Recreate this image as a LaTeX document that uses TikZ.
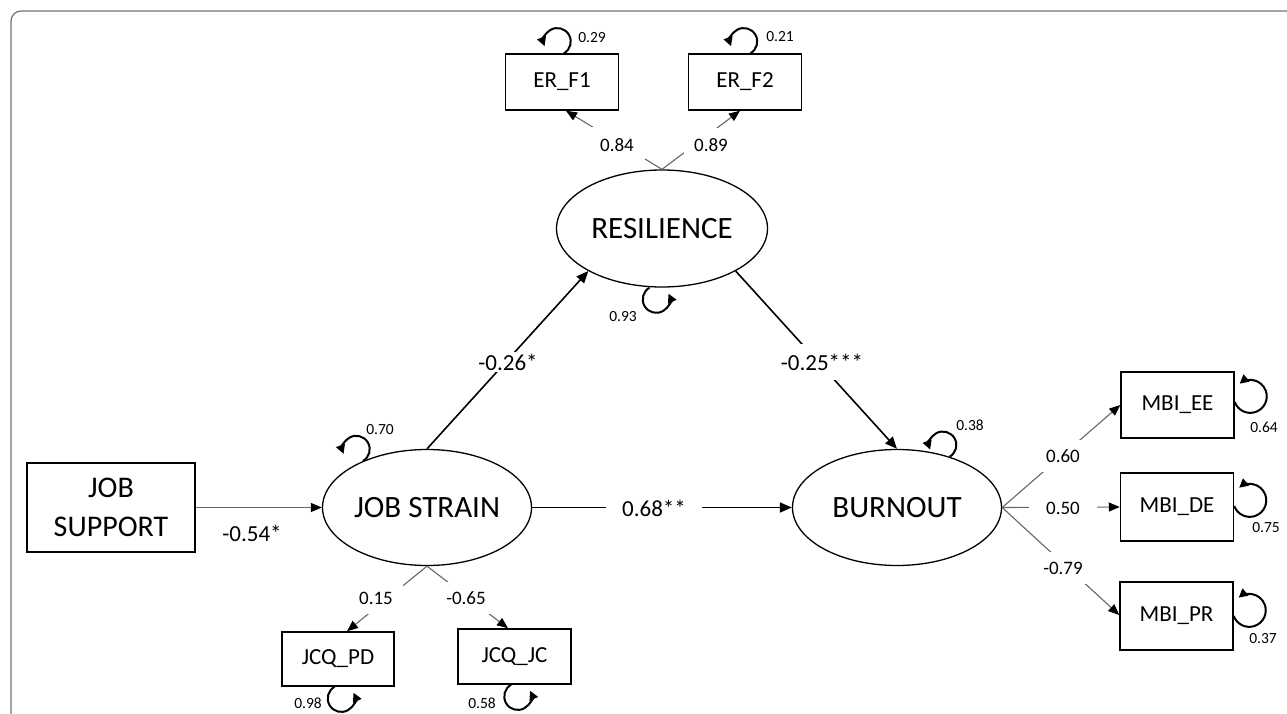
\documentclass[tikz,border=0pt]{standalone}
\usepackage{fontspec}
\setmainfont{Carlito}
\usetikzlibrary{arrows.meta,shapes.geometric}
\begin{document}
\begin{tikzpicture}[x=1pt,y=-1pt,
    latent/.style={draw,ellipse,line width=1.3pt,minimum width=209pt,minimum height=116pt,inner sep=0pt,font=\fontsize{31}{34}\selectfont},
    observed/.style={draw,rectangle,line width=1.5pt,minimum width=113pt,minimum height=56pt,inner sep=0pt,font=\fontsize{23}{26}\selectfont},
    regpath/.style={line width=1.6pt,-{Triangle[length=12pt,width=10pt]}},
    loading/.style={line width=1.1pt,black!60,-{Triangle[length=11pt,width=9pt,color=black]}},
    resid/.style={line width=2pt,-{Triangle[length=9pt,width=9pt]}},
    coef/.style={fill=white,inner sep=2pt,font=\fontsize{23}{26}\selectfont},
    loadlab/.style={fill=white,inner sep=10pt,font=\fontsize{19}{21}\selectfont},
    residlab/.style={inner sep=0pt,font=\fontsize{15.5}{17}\selectfont}]
    \useasboundingbox (0,0) rectangle (1287,714);
    \draw[black!55,line width=1.2pt,rounded corners=10pt] (11,714) -- (11,11) -- (1287,11);

    \node[observed] (er1) at (562,82) {ER\_F1};
    \node[observed] (er2) at (745,82) {ER\_F2};
    \node[latent,minimum width=211pt,minimum height=117pt] (res) at (662,228.5) {RESILIENCE};
    \node[latent] (js) at (427,507.5) {JOB STRAIN};
    \node[latent] (bo) at (897,507.5) {BURNOUT};
    \node[observed,minimum width=168pt,minimum height=89pt,align=center,font=\fontsize{30}{39}\selectfont] (sup) at (111,507.5) {JOB\\SUPPORT};
    \node[observed,minimum width=112pt,minimum height=54pt] (pd) at (338,659) {JCQ\_PD};
    \node[observed,minimum height=55pt] (jc) at (514.5,656.5) {JCQ\_JC};
    \node[observed,minimum height=66pt] (ee) at (1177.5,405) {MBI\_EE};
    \node[observed,minimum height=68pt] (de) at (1177,507) {MBI\_DE};
    \node[observed,minimum height=68pt] (pr) at (1176.5,616) {MBI\_PR};

    \draw[loading] (sup.east) -- (js.west);
    \draw[regpath] (js.north) -- (res.210);
    \draw[regpath] (res.-30) -- (bo.north);
    \draw[regpath] (js.east) -- (bo.west);
    \draw[loading] (res.north) -- ([xshift=4pt]er1.south);
    \draw[loading] (res.north) -- ([xshift=-5pt]er2.south);
    \draw[loading] (js.south) -- ([xshift=9pt]pd.north);
    \draw[loading] (js.south) -- ([xshift=-6.5pt]jc.north);
    \draw[loading] (bo.east) -- (ee.west);
    \draw[loading] (bo.east) -- (de.west);
    \draw[loading] (bo.east) -- ([yshift=1pt]pr.west);

    \node[coef,fill=none] (c-sup) at (252,533) {-0.54*};
    \node[coef] (c-res) at (508,362) {-0.26*};
    \node[coef,inner ysep=10pt] (c-bo) at (822,362) {-0.25***};
    \node[coef,inner xsep=16pt] (c-js) at (654,508) {0.68**};
    \node[loadlab,inner sep=11pt] (l-er1) at (617,145) {0.84};
    \node[loadlab] (l-er2) at (711,145) {0.89};
    \node[loadlab] (l-pd) at (376,598) {0.15};
    \node[loadlab] (l-jc) at (466,598) {-0.65};
    \node[loadlab] (l-ee) at (1063,456) {0.60};
    \node[loadlab,inner xsep=17pt] (l-de) at (1063,508) {0.50};
    \node[loadlab] (l-pr) at (1063,568) {-0.79};

    \draw[resid] ([xshift=2pt]er1.north) arc[start angle=-60,end angle=200,radius=13.5pt];
    \draw[resid] ([xshift=5.5pt]er2.north) arc[start angle=-60,end angle=200,radius=13.5pt];
    \draw[resid] ([xshift=-12.5pt]res.south) arc[start angle=120,end angle=385,radius=13.5pt];
    \draw[resid] (js.144) arc[start angle=-60,end angle=200,radius=13.5pt];
    \draw[resid] (bo.44) arc[start angle=-60,end angle=200,radius=13.5pt];
    \draw[resid] ([xshift=-3.5pt]pd.south) arc[start angle=120,end angle=385,radius=13.5pt];
    \draw[resid] ([xshift=-3.5pt]jc.south) arc[start angle=120,end angle=385,radius=13.5pt];
    \draw[resid] ([yshift=3pt]ee.east) arc[start angle=200,end angle=490,radius=16.5pt];
    \draw[resid] ([yshift=1pt]de.east) arc[start angle=200,end angle=490,radius=16.5pt];
    \draw[resid] (pr.east) arc[start angle=200,end angle=490,radius=16.5pt];

    \node[residlab] (r-er1) at (592,38) {0.29};
    \node[residlab] (r-er2) at (780,37) {0.21};
    \node[residlab] (r-res) at (623,317) {0.93};
    \node[residlab] (r-js) at (380,430) {0.70};
    \node[residlab] (r-bo) at (970,425) {0.38};
    \node[residlab] (r-pd) at (308,703) {0.98};
    \node[residlab] (r-jc) at (482,703) {0.58};
    \node[residlab] (r-ee) at (1264,427) {0.64};
    \node[residlab] (r-de) at (1266,528) {0.75};
    \node[residlab] (r-pr) at (1263,639) {0.37};
\end{tikzpicture}
\end{document}
